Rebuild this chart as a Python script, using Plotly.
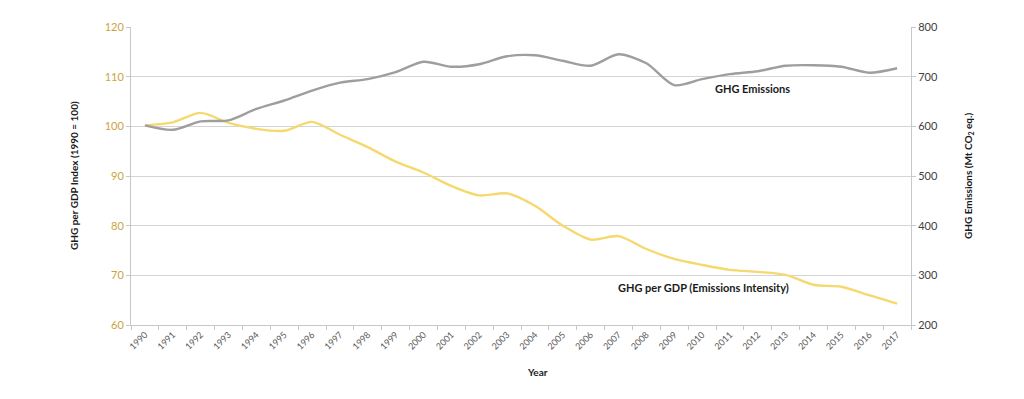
import plotly.graph_objects as go

years = [str(y) for y in range(1990, 2018)]
ghg_emissions = [602, 593, 610, 612, 635, 652, 672, 688, 695, 709, 730, 720, 725, 741, 743, 732,
                 722, 745, 727, 683, 695, 705, 711, 722, 723, 720, 708, 717]
ghg_per_gdp = [100.2, 100.8, 102.7, 100.7, 99.5, 99.1, 100.9, 98.3, 95.8, 92.9, 90.7, 88.0, 86.1,
               86.5, 84.0, 80.0, 77.2, 77.9, 75.3, 73.3, 72.1, 71.1, 70.7, 70.1, 68.1, 67.7, 66.0, 64.3]

FONT = "Lato, 'Open Sans', sans-serif"
GRID = "#d4d4d4"

fig = go.Figure()
fig.add_trace(go.Scatter(x=years, y=ghg_per_gdp, mode="lines", name="GHG per GDP",
                         line=dict(color="#f5d86e", width=2.4, shape="spline", smoothing=0.8),
                         yaxis="y"))
fig.add_trace(go.Scatter(x=years, y=ghg_emissions, mode="lines", name="GHG Emissions",
                         line=dict(color="#9e9e9e", width=2.4, shape="spline", smoothing=0.8),
                         yaxis="y2"))

def ann(text, x, y, size=11, angle=0):
    return dict(text=text, xref="paper", yref="paper", x=x, y=y, textangle=angle,
                xanchor="center", yanchor="middle", showarrow=False,
                font=dict(size=size, color="#1a1a1a"))

fig.update_layout(
    width=1016, height=391,
    margin=dict(l=123, r=113, t=17, b=74),
    paper_bgcolor="white", plot_bgcolor="white",
    showlegend=False,
    font=dict(family=FONT, color="#404040"),
    xaxis=dict(type="category", range=[-0.5, len(years) - 0.5], tickangle=-45,
               tickfont=dict(size=9, color="#595959"),
               showgrid=False, showline=True, linecolor="#c8c8c8", linewidth=1,
               ticks="outside", tickson="boundaries", ticklen=4, tickcolor="#c8c8c8"),
    yaxis=dict(range=[60, 120], dtick=10, tickfont=dict(size=11, color="#c9a43c"),
               showgrid=True, gridcolor=GRID, gridwidth=1, zeroline=False,
               showline=True, linecolor="#c8c8c8", ticks="outside", ticklen=4, tickcolor="#c8c8c8"),
    yaxis2=dict(range=[200, 800], dtick=100, overlaying="y", side="right",
                tickfont=dict(size=11, color="#404040"), showgrid=False, zeroline=False,
                showline=True, linecolor="#c8c8c8", ticks="outside", ticklen=4, tickcolor="#c8c8c8"),
    annotations=[
        ann("<b>GHG per GDP Index (1990 = 100)</b>", (74 - 131) / 780, 0.5, size=10, angle=-90),
        ann("<b>GHG Emissions (Mt CO<sub>2</sub> eq.)</b>", (968 - 131) / 780, 0.5, size=10, angle=-90),
        ann("<b>Year</b>", (537 - 131) / 780, (325 - 372) / 300, size=10),
        ann("<b>GHG Emissions</b>", (752 - 131) / 780, (325 - 87) / 300),
        ann("<b>GHG per GDP (Emissions Intensity)</b>", (703 - 131) / 780, (325 - 287) / 300),
    ],
)

fig.write_html("out.html")
